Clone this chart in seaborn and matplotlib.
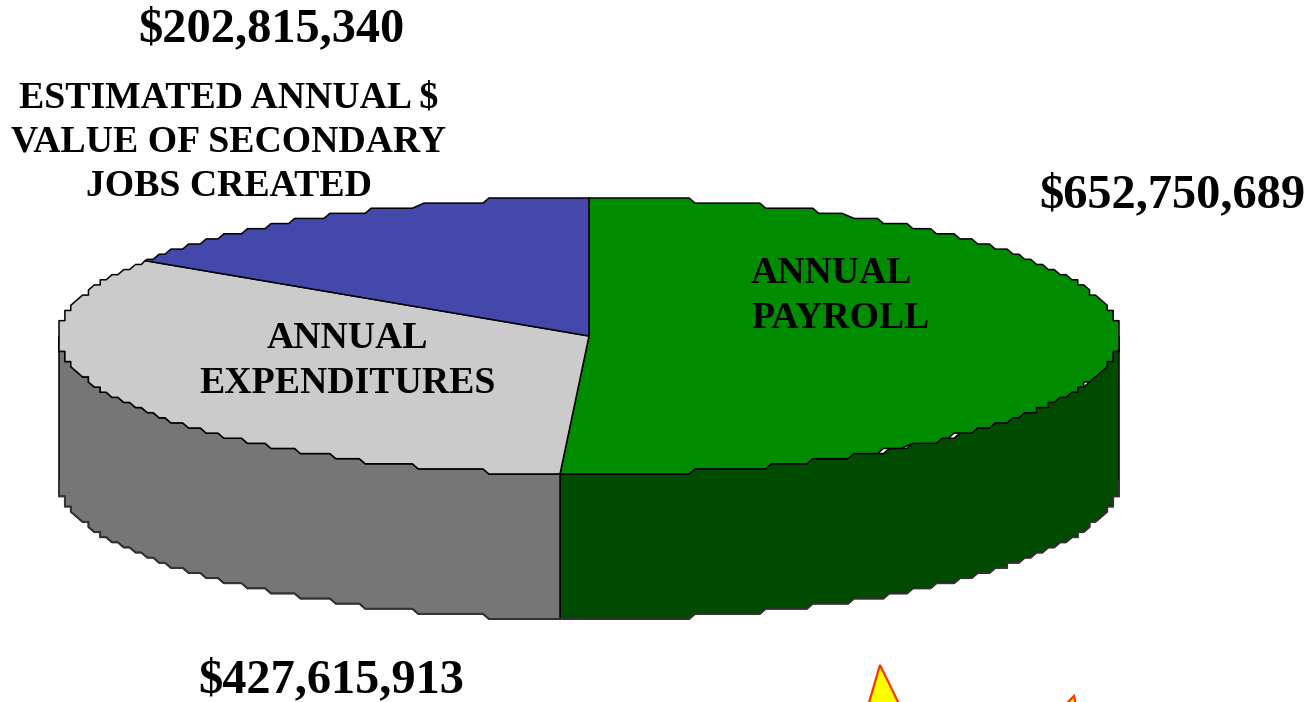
import numpy as np
import matplotlib
matplotlib.use("Agg")
import matplotlib.pyplot as plt
from matplotlib.transforms import Affine2D
import seaborn as sns

# ---- data ----
slice_names = ["ANNUAL PAYROLL", "ANNUAL EXPENDITURES", "SECONDARY JOBS"]
slice_values = [652750689, 427615913, 202815340]
value_labels = ["$652,750,689", "$427,615,913", "$202,815,340"]
top_colors = ["#008c00", "#cbcbcb", "#4448aa"]
side_colors = ["#004b00", "#767676", "#2a2c70"]

W, H = 1315, 702
CX, CY, RX, RY, DEPTH = 589, 336, 530, 138, 145

sns.set_theme(style="white")
plt.rcParams["font.family"] = ["Liberation Serif", "DejaVu Serif"]

fig = plt.figure(figsize=(W / 100, H / 100), dpi=100, facecolor="white")
ax = fig.add_axes([0, 0, 1, 1])
ax.axis("off")
px = Affine2D().scale(1, -1).translate(0, H)

fractions = np.array(slice_values, dtype=float) / sum(slice_values)
edges = np.concatenate([[0], np.cumsum(fractions)]) * 2 * np.pi  # clockwise from top


def rim(a0, a1, dy=0.0, n_per_rad=70):
    """Stair-stepped rim, as in the low-resolution original."""
    n = max(2, int(abs(a1 - a0) * n_per_rad))
    t = np.linspace(a0, a1, n)
    x = np.sin(t) * RX
    y = np.cos(t) * RY
    step_x, step_y = RX / 90, RY / 27
    x = np.round(x / step_x) * step_x
    y = np.round(y / step_y) * step_y
    x[0], y[0] = np.sin(a0) * RX, np.cos(a0) * RY
    x[-1], y[-1] = np.sin(a1) * RX, np.cos(a1) * RY
    return x / RX, y / RY + dy


dz = -DEPTH / RY

# pie base (library wedges), very slightly inside the stepped rim
wedges, _ = ax.pie(
    fractions, startangle=90, counterclock=False, colors=top_colors,
    radius=0.985, center=(0, 0), frame=False, normalize=False,
    wedgeprops=dict(linewidth=0, zorder=3),
)
ax.set_aspect("auto")
ax.set_xlim(-CX / RX, (W - CX) / RX)
ax.set_ylim((CY - H) / RY, CY / RY)

# side wall of the visible (front) half
front_lo, front_hi = np.pi / 2, 3 * np.pi / 2
for i in range(len(fractions)):
    a0, a1 = max(edges[i], front_lo), min(edges[i + 1], front_hi)
    if a1 <= a0:
        continue
    xt, yt = rim(a0, a1)
    xb, yb = rim(a0, a1, dz)
    ax.fill(np.r_[xt, xb[::-1]], np.r_[yt, yb[::-1]], fc=side_colors[i],
            ec="black", lw=1.1, zorder=2)
    ax.plot(xb, yb, color="#333333", lw=1.4, zorder=2.5)

# stepped top outline of each slice
for i in range(len(fractions)):
    x, y = rim(edges[i], edges[i + 1])
    ax.fill(np.r_[0, x], np.r_[0, y], fc=top_colors[i], ec="black", lw=1.1,
            joinstyle="round", zorder=4)

# decorative starburst tips cut off by the picture edge
star_kw = dict(fc="#ffff00", ec="#ff3300", lw=1.6, transform=px, clip_on=True, zorder=5)
ax.fill([868, 880, 900], [706, 665, 706], **star_kw)
ax.fill([1064, 1074, 1076], [706, 696, 706], **star_kw)

txt = dict(fontweight="bold", color="black", ha="center", va="center", transform=px,
           zorder=6, linespacing=1.34)
big = 34.8
ax.text(271, 29, value_labels[2], fontsize=big, **txt)
ax.text(1172, 195, value_labels[0], fontsize=big, **txt)
ax.text(331, 680, value_labels[1], fontsize=big, **txt)
lab = 27.2
ax.text(229, 142, "ESTIMATED ANNUAL $\nVALUE OF SECONDARY\nJOBS CREATED", fontsize=lab, **txt)
ax.text(347, 361, "ANNUAL\nEXPENDITURES", fontsize=lab, **txt)
ax.text(751, 296, "ANNUAL\nPAYROLL", fontsize=lab, **{**txt, "ha": "left"})

fig.savefig("out.png", dpi=100, facecolor="white")
